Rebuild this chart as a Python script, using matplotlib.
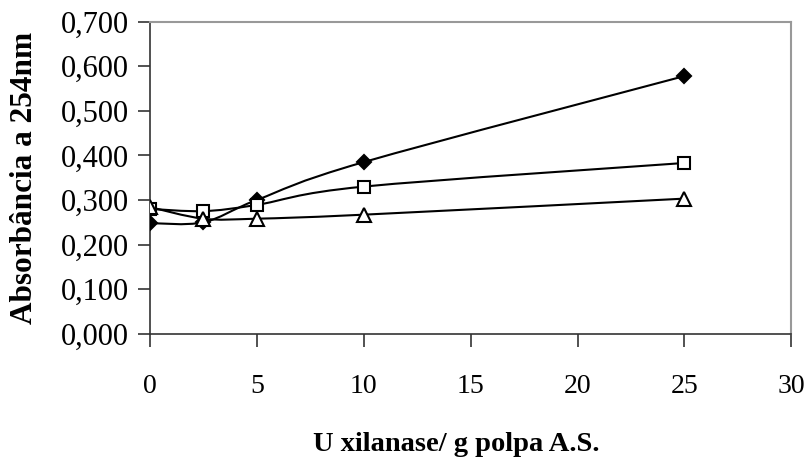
#!/usr/bin/env python3

# absorbância a 254 nm em função da dose de xilanase (três séries)

import numpy as np
import matplotlib.pyplot as plt
from matplotlib.path import Path
from matplotlib.patches import PathPatch
from matplotlib.ticker import FuncFormatter

# data
dose = [0, 2.5, 5, 10, 25]
serie_losango = [0.248, 0.250, 0.300, 0.385, 0.578]
serie_quadrado = [0.280, 0.275, 0.289, 0.330, 0.383]
serie_triangulo = [0.284, 0.258, 0.258, 0.267, 0.303]

plt.rcParams['font.family'] = ['Liberation Serif', 'DejaVu Serif']


def smooth_path(x, y):
    # curva suavizada tipo excel (catmull-rom em bezier cubica)
    pts = np.column_stack([x, y])
    ext = np.vstack([pts[0], pts, pts[-1]])
    verts = [pts[0]]
    codes = [Path.MOVETO]
    for i in range(1, len(ext) - 2):
        p0, p1, p2, p3 = ext[i - 1], ext[i], ext[i + 1], ext[i + 2]
        c1 = p1 + (p2 - p0) / 6.0
        c2 = p2 - (p3 - p1) / 6.0
        verts += [c1, c2, p2]
        codes += [Path.CURVE4] * 3
    return Path(verts, codes)


fig = plt.figure(figsize=(8.09, 4.57), dpi=100)
ax = fig.add_axes([0.1854, 0.2699, 0.7927, 0.6826])

for serie, marker, face, ms in [(serie_losango, 'D', 'black', 7.2),
                                (serie_quadrado, 's', 'white', 8.2),
                                (serie_triangulo, '^', 'white', 9.5)]:
    ax.add_patch(PathPatch(smooth_path(dose, serie), facecolor='none',
                           edgecolor='black', lw=1.5, zorder=2))
    ax.plot(dose, serie, linestyle='none', marker=marker, ms=ms,
            markerfacecolor=face, markeredgecolor='black', mew=1.5, zorder=3)

ax.set_xlim(0, 30)
ax.set_ylim(0, 0.7)
ax.set_xticks(range(0, 31, 5))
ax.set_yticks(np.arange(0, 0.71, 0.1))
ax.yaxis.set_major_formatter(FuncFormatter(lambda v, p: f'{v:.3f}'.replace('.', ',')))

ax.tick_params(axis='both', direction='out', length=9, width=1.2, color='#333333')
ax.tick_params(axis='x', pad=20, labelsize=20)
ax.tick_params(axis='y', pad=6, labelsize=22)

for side in ['left', 'bottom']:
    ax.spines[side].set_color('#333333')
    ax.spines[side].set_linewidth(1.2)
for side in ['top', 'right']:
    ax.spines[side].set_color('#999999')
    ax.spines[side].set_linewidth(1.5)

ax.set_xlabel('U xilanase/ g polpa A.S.', fontsize=20.5, fontweight='bold', labelpad=24)
ax.set_ylabel('Absorbância a 254nm', fontsize=22.5, fontweight='bold', labelpad=16)
ax.xaxis.label.set_x(0.477)

fig.savefig('out.png', dpi=100)
